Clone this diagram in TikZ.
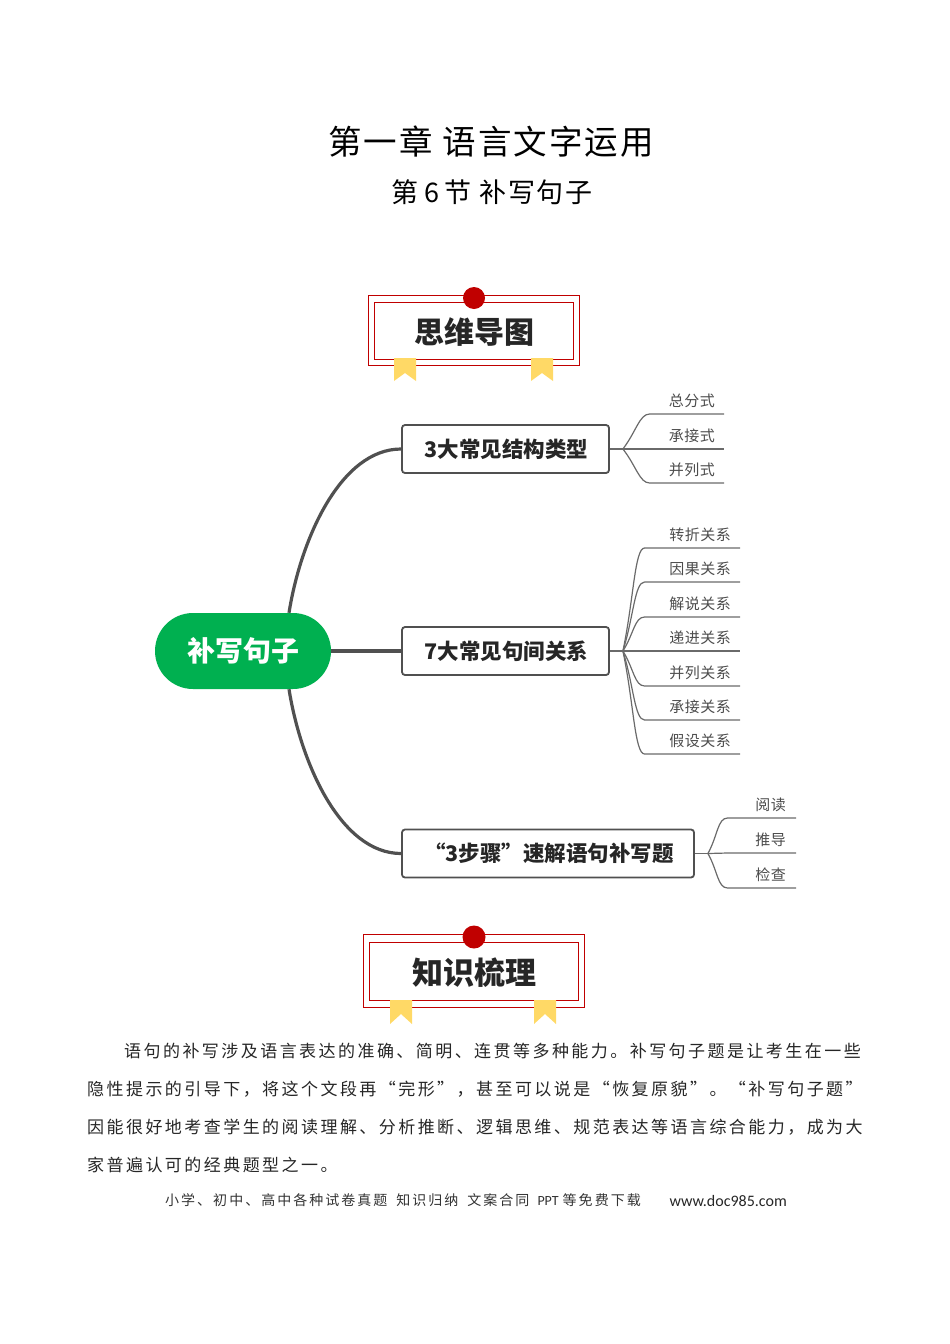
\documentclass[tikz,border=0pt]{standalone}
\usepackage{fontspec}
\usepackage{xcolor}
\usetikzlibrary{calc}
\setmainfont{Noto Sans CJK SC}
\newfontfamily\bodyfont[LetterSpace=14.4]{Noto Sans CJK SC}
\newfontfamily\headfont[LetterSpace=6]{Noto Sans CJK SC}
\newfontfamily\leaffont[LetterSpace=3]{Noto Sans CJK SC}
\newfontfamily\webfont{Carlito}
\definecolor{linegray}{HTML}{505050}
\definecolor{rootgreen}{HTML}{00B050}
\definecolor{bannerred}{HTML}{C00000}
\definecolor{ribbonyellow}{HTML}{FFD966}
\newcommand{\fsize}[1]{\fontsize{#1}{#1}\selectfont}
\tikzset{
  titleline/.style={text=black,inner sep=0pt},
  bodyline/.style={anchor=west,inner sep=0pt,text=black!85,font=\fsize{17}\bodyfont},
  topicbox/.style={draw=linegray,line width=1.8pt,rounded corners=3pt,fill=white,
    minimum height=48pt,inner sep=0pt,text=black!85,font=\fsize{21.5}\bfseries},
  branch/.style={draw=linegray,line width=3.2pt},
  twig/.style={draw=linegray!85,line width=1.2pt},
  leaf/.style={anchor=south east,text width=#1,align=right,inner xsep=9pt,inner ysep=4.5pt,
    text height=12pt,text depth=3pt,text=black!70,font=\fsize{15}\leaffont},
  banner/.style={draw=bannerred,line width=1pt,inner sep=0pt,fill=none},
  bannerdot/.style={circle,fill=bannerred,inner sep=0pt,minimum size=22pt},
  bannertext/.style={inner sep=0pt,text=black!85,font=\fsize{30}\bfseries},
}
\begin{document}
\begin{tikzpicture}[x=1pt,y=-1pt]
\useasboundingbox (0,0) rectangle (950,1344);

% headings
\node[titleline,font=\fsize{33.5}\headfont] (title) at (491,142) {第一章 语言文字运用};
\node[titleline,font=\fsize{27}\headfont] (subtitle) at (492,192) {第\hspace{6pt}6\hspace{5pt}节 补写句子};

% first banner
\node[banner,minimum width=211pt,minimum height=70pt] (bannera) at (473.5,330) {};
\node[banner,minimum width=199pt,minimum height=57pt] (bannerain) at (473.5,330.5) {};
\node[bannerdot] (dota) at (474,298) {};
\node[bannertext] (bannerlabela) at (474,332) {思维导图};
\foreach \x in {394,531} {
  \fill[ribbonyellow] (\x,358) -- (\x+22,358) -- (\x+22,381) -- (\x+11,373) -- (\x,381) -- cycle;
}

% mind map
\node[fill=rootgreen,rounded corners=38pt,minimum width=176pt,minimum height=76pt,inner sep=0pt,
  text=white,font=\fsize{28}\bfseries] (root) at (243,651) {\raisebox{-1.5pt}{补写句子}};
\node[topicbox,minimum width=207pt] (boxa) at (505.5,449) {\raisebox{-1pt}{\hspace{2pt}3大常见结构类型}};
\node[topicbox,minimum width=207pt] (boxb) at (505.5,651) {\raisebox{-1pt}{\hspace{2pt}7大常见句间关系}};
\node[topicbox,minimum width=292pt] (boxc) at (548,853.5) {\raisebox{-1pt}{\hspace{2pt}“3步骤”速解语句补写题}};

\draw[branch] ($(root.north)+(46,0)$) .. controls +(12,-75) and +(-60,0) .. (boxa.west);
\draw[branch] (root.east) -- (boxb.west);
\draw[branch] ($(root.south)+(46,0)$) .. controls +(12,75) and +(-60,0) .. (boxc.west);

\coordinate (forka) at ($(boxa.east)+(13,0)$);
\coordinate (forkb) at ($(boxb.east)+(13,0)$);
\coordinate (forkc) at ($(boxc.east)+(13,0)$);
\draw[twig] (boxa.east) -- (forka);
\draw[twig] (boxb.east) -- (forkb);
\draw[twig] (boxc.east) -- (forkc);

\foreach \i/\y/\t in {1/414/总分式,2/449/承接式,3/483/并列式} {
  \node[leaf=56pt] (leafa\i) at (724,\y) {\t};
  \draw[twig] (forka) .. controls ($(forka)!0.5!(leafa\i.south west)$) and ($(leafa\i.south west)+(-10,0)$) .. (leafa\i.south west) -- (leafa\i.south east);
}
\foreach \i/\y/\t in {1/548/转折关系,2/582/因果关系,3/617/解说关系,4/651/递进关系,5/686/并列关系,6/720/承接关系,7/754/假设关系} {
  \node[leaf=77pt] (leafb\i) at (740,\y) {\t};
  \draw[twig] (forkb) .. controls ($(forkb)!0.5!(leafb\i.south west)$) and ($(leafb\i.south west)+(-10,0)$) .. (leafb\i.south west) -- (leafb\i.south east);
}
\foreach \i/\y/\t in {1/818/阅读,2/853/推导,3/888/检查} {
  \node[leaf=48pt,inner xsep=10pt] (leafc\i) at (796,\y) {\t};
  \draw[twig] (forkc) .. controls ($(forkc)!0.5!(leafc\i.south west)$) and ($(leafc\i.south west)+(-10,0)$) .. (leafc\i.south west) -- (leafc\i.south east);
}

% second banner
\node[banner,minimum width=221pt,minimum height=73pt] (bannerb) at (473.5,970.5) {};
\node[banner,minimum width=209pt,minimum height=58pt] (bannerbin) at (473.5,971) {};
\node[bannerdot,minimum size=23pt] (dotb) at (474,937) {};
\node[bannertext,font=\fsize{31}\bfseries] (bannerlabelb) at (474,973) {知识梳理};
\foreach \x in {390,534} {
  \fill[ribbonyellow] (\x,1000) -- (\x+22,1000) -- (\x+22,1024) -- (\x+11,1014) -- (\x,1024) -- cycle;
}

% text
\node[bodyline] (linea) at (124,1051) {语句的补写涉及语言表达的准确、简明、连贯等多种能力。补写句子题是让考生在一些};
\node[bodyline] (lineb) at (87,1089) {隐性提示的引导下，将这个文段再“完形”，甚至可以说是“恢复原貌”。“补写句子题”};
\node[bodyline] (linec) at (87,1127) {因能很好地考查学生的阅读理解、分析推断、逻辑思维、规范表达等语言综合能力，成为大};
\node[bodyline] (lined) at (87,1165) {家普遍认可的经典题型之一。};

% footer
\node[inner sep=0pt,anchor=west,text=black!80,font=\fsize{14}\bodyfont] (foot) at (165,1200.5) {小学、初中、高中各种试卷真题\hspace{9pt}知识归纳\hspace{9pt}文案合同\hspace{8pt}{\webfont PPT}\hspace{4pt}等免费下载};
\node[inner sep=0pt,anchor=east,text=black!85,font=\fsize{16}\webfont] (web) at (787,1201) {www.doc985.com};
\end{tikzpicture}
\end{document}
